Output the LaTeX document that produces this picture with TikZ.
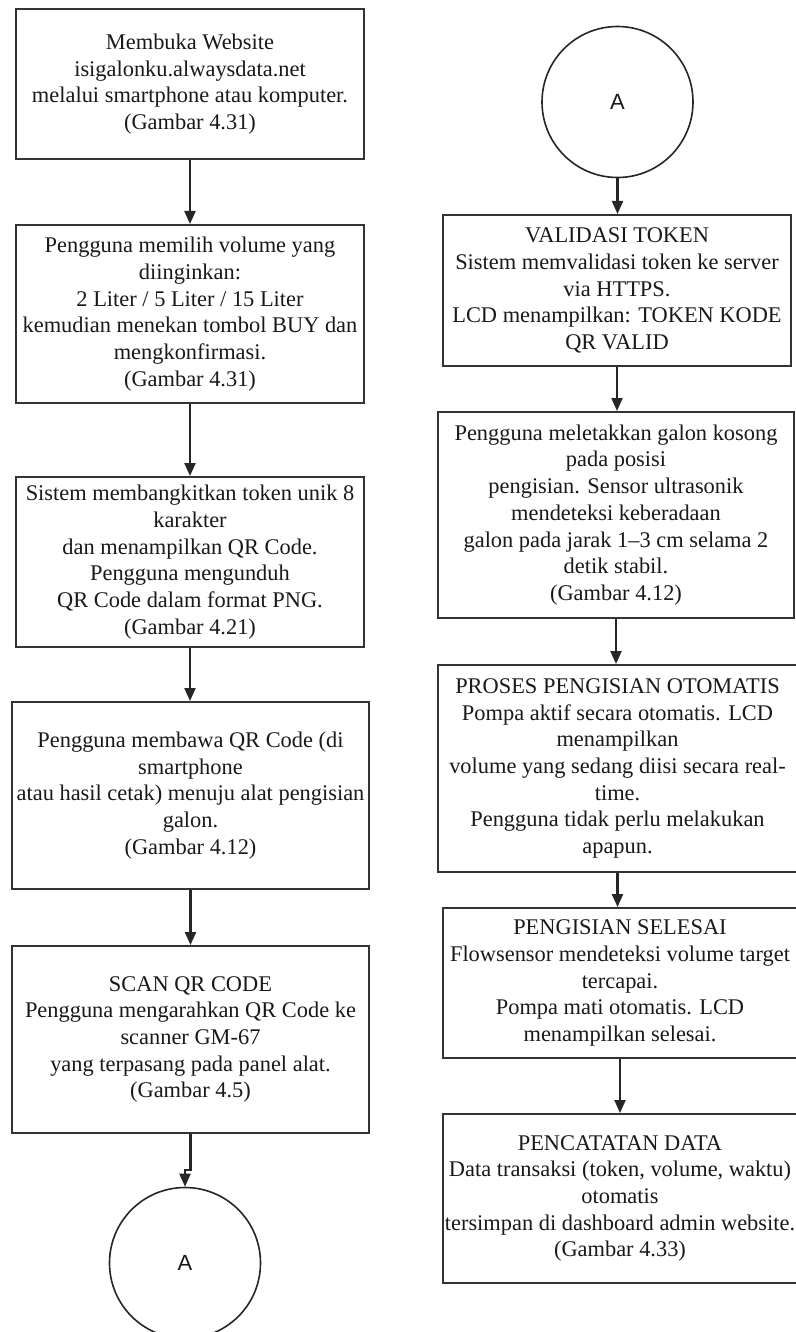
\documentclass[tikz,border=0pt]{standalone}
\usepackage{fontspec}
\setmainfont{Liberation Serif}
\newfontfamily\sansA{Liberation Sans}
\usetikzlibrary{arrows.meta}
\begin{document}
\begin{tikzpicture}[x=1pt,y=-1pt,
  box/.style={draw=black!80,line width=2pt,inner sep=0pt,align=center,text=black!90,
    font=\fontsize{22.4}{26.7}\selectfont},
  conn/.style={draw=black!85,line width=1.6pt,minimum size=151pt,inner sep=0pt,circle,
    font=\sansA\fontsize{22}{24}\selectfont,text=black!90},
  arr/.style={draw=black!85,line width=2.2pt,-{Triangle[length=13pt,width=11pt]}}]
\useasboundingbox (0,0) rectangle (795,1332);
\fill[white] (0,0) rectangle (795,1332);
% left column
\node[box,minimum width=348pt,minimum height=150pt] (b1) at (190,84)
  {Membuka Website\\isigalonku.alwaysdata.net\\melalui smartphone atau komputer.\\(Gambar 4.31)};
\node[box,minimum width=348pt,minimum height=178pt] (b2) at (190,314)
  {Pengguna memilih volume yang\\diinginkan:\\2 Liter / 5 Liter / 15 Liter\\kemudian menekan tombol BUY dan\\mengkonfirmasi.\\(Gambar 4.31)};
\node[box,minimum width=348pt,minimum height=170pt] (b3) at (190,562)
  {Sistem membangkitkan token unik 8\\karakter\\dan menampilkan QR Code.\\Pengguna mengunduh\\QR Code dalam format PNG.\\(Gambar 4.21)};
\node[box,minimum width=357pt,minimum height=187pt] (b4) at (190.5,795.5)
  {Pengguna membawa QR Code (di\\smartphone\\atau hasil cetak) menuju alat pengisian\\galon.\\(Gambar 4.12)};
\node[box,minimum width=357pt,minimum height=187pt] (b5) at (190.5,1039.5)
  {SCAN QR CODE\\Pengguna mengarahkan QR Code ke\\scanner GM-67\\yang terpasang pada panel alat.\\(Gambar 4.5)};
\node[conn] (cA) at (185,1263) {A};
% right column
\node[conn] (cB) at (617.5,102) {A};
\node[box,minimum width=348pt,minimum height=151pt] (r1) at (617,290.5)
  {VALIDASI TOKEN\\Sistem memvalidasi token ke server\\via HTTPS.\\LCD menampilkan: TOKEN KODE\\QR VALID};
\node[box,minimum width=356pt,minimum height=206pt] (r2) at (616,515)
  {Pengguna meletakkan galon kosong\\pada posisi\\pengisian. Sensor ultrasonik\\mendeteksi keberadaan\\galon pada jarak 1--3 cm selama 2\\detik stabil.\\(Gambar 4.12)};
\node[box,minimum width=359pt,minimum height=207pt] (r3) at (617.5,768.5)
  {PROSES PENGISIAN OTOMATIS\\Pompa aktif secara otomatis. LCD\\menampilkan\\volume yang sedang diisi secara real-\\time.\\Pengguna tidak perlu melakukan\\apapun.};
\node[box,minimum width=354pt,minimum height=150pt] (r4) at (620,983)
  {PENGISIAN SELESAI\\Flowsensor mendeteksi volume target\\tercapai.\\Pompa mati otomatis. LCD\\menampilkan selesai.};
\node[box,minimum width=354pt,minimum height=169pt] (r5) at (620,1198.5)
  {PENCATATAN DATA\\Data transaksi (token, volume, waktu)\\otomatis\\tersimpan di dashboard admin website.\\(Gambar 4.33)};
% connectors
\draw[arr] (b1.south) -- (b2.north);
\draw[arr] (b2.south) -- (b3.north);
\draw[arr] (b3.south) -- (b3.south |- b4.north);
\draw[arr] (b4.south) -- (b5.north);
\draw[arr] (b5.south) |- ([yshift=17pt]cA.north) -- (cA.north);
\draw[arr] (cB.south) -- (cB.south |- r1.north);
\draw[arr] (r1.south) -- (r1.south |- r2.north);
\draw[arr] (r2.south) -- (r2.south |- r3.north);
\draw[arr] (r3.south) -- (r3.south |- r4.north);
\draw[arr] (r4.south) -- (r5.north);
\end{tikzpicture}
\end{document}
